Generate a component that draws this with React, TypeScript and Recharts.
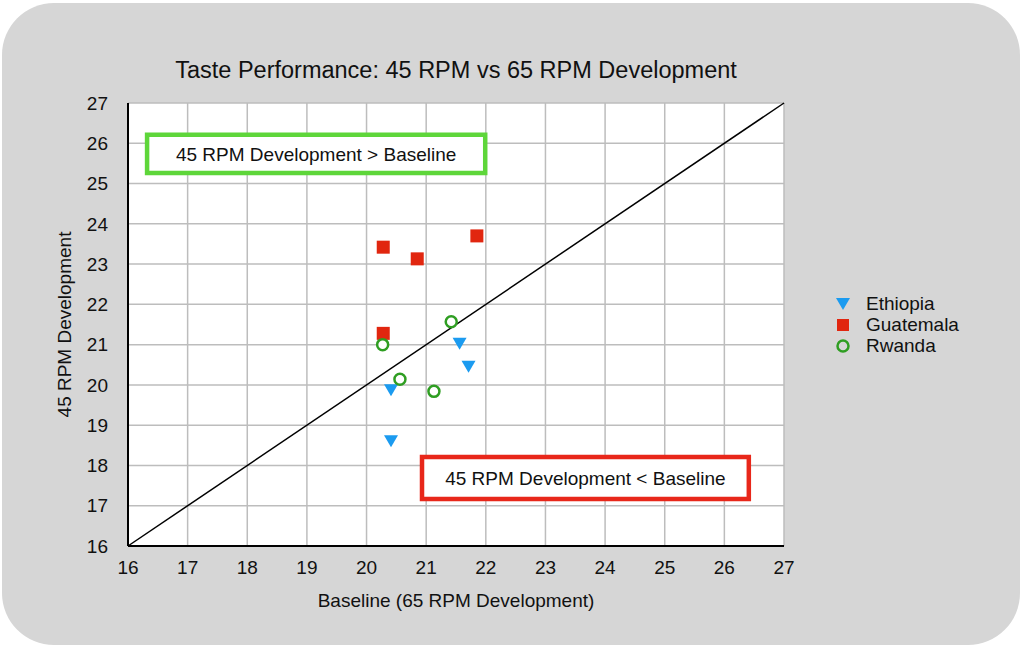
import React from "react";
import {
  ScatterChart,
  Scatter,
  XAxis,
  YAxis,
  CartesianGrid,
  ReferenceLine,
  ReferenceArea,
  Label,
} from "recharts";

// values (baseline x, 45 RPM y)
const ethiopia = [
  { x: 21.56, y: 21.02 },
  { x: 21.71, y: 20.45 },
  { x: 20.41, y: 19.87 },
  { x: 20.41, y: 18.6 },
];
const guatemala = [
  { x: 20.28, y: 23.42 },
  { x: 20.85, y: 23.13 },
  { x: 21.85, y: 23.7 },
  { x: 20.28, y: 21.28 },
];
const rwanda = [
  { x: 20.27, y: 21.0 },
  { x: 21.42, y: 21.57 },
  { x: 20.56, y: 20.14 },
  { x: 21.13, y: 19.84 },
];
const axisTicks = [16, 17, 18, 19, 20, 21, 22, 23, 24, 25, 26, 27];

const FONT = '"Liberation Sans", Arial, Helvetica, sans-serif';
const BLUE = "#1b9bf0";
const RED = "#e1260f";
const GREEN = "#2f9e22";

const DownTriangle = (props: any) => {
  const { cx, cy } = props;
  return (
    <polygon
      points={`${cx - 7},${cy - 6} ${cx + 7},${cy - 6} ${cx},${cy + 6}`}
      fill={BLUE}
    />
  );
};

const Square = (props: any) => {
  const { cx, cy } = props;
  return <rect x={cx - 6.5} y={cy - 6.5} width={13} height={13} fill={RED} />;
};

const Ring = (props: any) => {
  const { cx, cy } = props;
  return <circle cx={cx} cy={cy} r={5.5} fill="#fff" stroke={GREEN} strokeWidth={2.5} />;
};

const legendItems = [
  { name: "Ethiopia", icon: <polygon points="2,3 16,3 9,15" fill={BLUE} /> },
  { name: "Guatemala", icon: <rect x={3} y={3} width={12} height={12} fill={RED} /> },
  { name: "Rwanda", icon: <circle cx={9} cy={9} r={5.5} fill="none" stroke={GREEN} strokeWidth={2.5} /> },
];

const CustomLegend = () => (
  <div
    style={{
      position: "absolute",
      left: 834,
      top: 293,
      fontFamily: FONT,
      fontSize: 19,
      color: "#111",
    }}
  >
    {legendItems.map((it) => (
      <div key={it.name} style={{ display: "flex", alignItems: "center", height: 21 }}>
        <svg width={18} height={18} style={{ marginRight: 14 }}>
          {it.icon}
        </svg>
        <span>{it.name}</span>
      </div>
    ))}
  </div>
);

const App: React.FC = () => {
  return (
    <div style={{ position: "relative", width: 1024, height: 649, background: "#fff" }}>
      <style>{`body{margin:0}`}</style>
      <div
        style={{
          position: "absolute",
          left: 2,
          top: 3,
          width: 1018,
          height: 642,
          borderRadius: 52,
          background: "#d6d6d6",
        }}
      />
      <div
        style={{
          position: "absolute",
          left: 128,
          top: 57,
          width: 656,
          textAlign: "center",
          fontFamily: FONT,
          fontSize: 23.5,
          color: "#111",
        }}
      >
        Taste Performance: 45 RPM vs 65 RPM Development
      </div>
      <div style={{ position: "absolute", left: 0, top: 0 }}>
        <ScatterChart
          width={1024}
          height={649}
          margin={{ top: 103, right: 240, bottom: 42, left: 48 }}
        >
          <CartesianGrid
            fill="#fff"
            stroke="#bdbdbd"
            strokeWidth={1.5}
            horizontalValues={axisTicks}
            verticalValues={axisTicks}
          />
          <XAxis
            type="number"
            dataKey="x"
            domain={[16, 27]}
            ticks={axisTicks}
            height={61}
            tickLine={false}
            tickMargin={9}
            axisLine={{ stroke: "#000", strokeWidth: 2 }}
            tick={{ fill: "#111", fontSize: 19, fontFamily: FONT }}
            interval={0}
          >
            <Label
              value="Baseline (65 RPM Development)"
              position="insideBottom"
              offset={0}
              fill="#111"
              style={{ fontSize: 19, fontFamily: FONT }}
            />
          </XAxis>
          <YAxis
            type="number"
            dataKey="y"
            domain={[16, 27]}
            ticks={axisTicks}
            width={80}
            tickLine={false}
            tickMargin={14}
            axisLine={{ stroke: "#000", strokeWidth: 2 }}
            tick={{ fill: "#111", fontSize: 19, fontFamily: FONT }}
            interval={0}
          >
            <Label
              value="45 RPM Development"
              angle={-90}
              position="insideLeft"
              offset={16}
              fill="#111"
              style={{ textAnchor: "middle", fontSize: 19, fontFamily: FONT }}
            />
          </YAxis>
          <ReferenceLine
            segment={[
              { x: 16, y: 16 },
              { x: 27, y: 27 },
            ]}
            stroke="#000"
            strokeWidth={1.5}
          />
          <ReferenceArea
            x1={16.32}
            x2={21.99}
            y1={25.26}
            y2={26.21}
            fill="#fff"
            fillOpacity={1}
            stroke="#5ed63a"
            strokeWidth={4.5}
          >
            <Label
              value="45 RPM Development > Baseline"
              position="center"
              fill="#111"
              style={{ fontSize: 19, fontFamily: FONT }}
            />
          </ReferenceArea>
          <ReferenceArea
            x1={20.93}
            x2={26.41}
            y1={17.17}
            y2={18.21}
            fill="#fff"
            fillOpacity={1}
            stroke="#e8271a"
            strokeWidth={4.5}
          >
            <Label
              value="45 RPM Development < Baseline"
              position="center"
              fill="#111"
              style={{ fontSize: 19, fontFamily: FONT }}
            />
          </ReferenceArea>
          <Scatter name="Ethiopia" data={ethiopia} shape={DownTriangle} isAnimationActive={false} />
          <Scatter name="Guatemala" data={guatemala} shape={Square} isAnimationActive={false} />
          <Scatter name="Rwanda" data={rwanda} shape={Ring} isAnimationActive={false} />
        </ScatterChart>
      </div>
      <CustomLegend />
    </div>
  );
};

export default App;
